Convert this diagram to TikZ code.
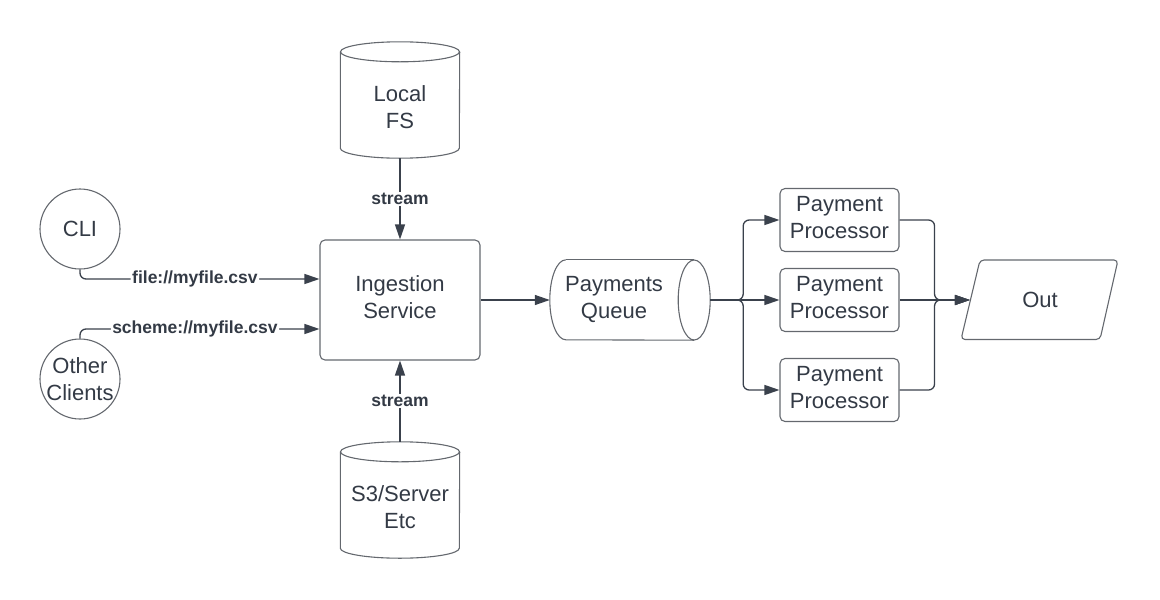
\documentclass[tikz,border=0pt]{standalone}
\usepackage{fontspec}
\setmainfont{Liberation Sans}
\usetikzlibrary{arrows.meta,calc}
\definecolor{txt}{RGB}{51,58,69}
\definecolor{edgec}{RGB}{100,104,110}
\definecolor{connc}{RGB}{58,65,76}
\begin{document}
\begin{tikzpicture}[x=1pt,y=-1pt,
  every node/.style={text=txt, font=\fontsize{22}{27}\selectfont, align=center},
  shp/.style={draw=edgec, line width=1.1pt},
  up/.style={text depth=5pt},
  box/.style={shp, rounded corners=5pt, inner sep=0pt, up},
  conn/.style={draw=connc, line width=1.3pt, -{Triangle[length=15pt,width=10pt]}},
  lbl/.style={font=\bfseries\fontsize{17.5}{20}\selectfont, fill=white, inner sep=1.5pt, text=txt}]
\useasboundingbox (0,0) rectangle (1160,600);

% clients
\node[shp, circle, minimum size=80pt, inner sep=0pt] (cli) at (80,229) {CLI};
\node[shp, circle, minimum size=80pt, inner sep=0pt] (oc) at (80,379) {Other\\Clients};

% ingestion service
\node[box, minimum width=160pt, minimum height=120pt] (ing) at (400,300) {Ingestion\\Service};

% Local FS cylinder
\node[minimum width=119pt, minimum height=96pt, inner sep=0pt, up] (lfs) at (400,110) {Local\\FS};
\draw[shp] ($(lfs.north west)+(0,-10)$) -- ($(lfs.south west)+(0,-10)$)
  arc[start angle=180, end angle=360, x radius=59.5pt, y radius=10pt]
  -- ($(lfs.north east)+(0,-10)$);
\draw[shp] ($(lfs.north)+(0,-10)$) ellipse [x radius=59.5pt, y radius=10pt];

% S3 cylinder
\node[minimum width=119pt, minimum height=96pt, inner sep=0pt, up] (s3) at (400,510) {S3/Server\\Etc};
\draw[shp] ($(s3.north west)+(0,-10)$) -- ($(s3.south west)+(0,-10)$)
  arc[start angle=180, end angle=360, x radius=59.5pt, y radius=10pt]
  -- ($(s3.north east)+(0,-10)$);
\draw[shp] ($(s3.north)+(0,-10)$) ellipse [x radius=59.5pt, y radius=10pt];

% Payments queue (horizontal cylinder)
\node[minimum width=128pt, minimum height=80pt, inner sep=0pt, up] (q) at (614,300) {Payments\\Queue};
\draw[shp] ($(q.north west)+(16,0)$)
  arc[start angle=90, end angle=270, x radius=16pt, y radius=40pt]
  -- ($(q.south east)+(16,0)$);
\draw[shp] ($(q.north west)+(16,0)$) -- ($(q.north east)+(16,0)$);
\draw[shp] ($(q.east)+(16,0)$) ellipse [x radius=16pt, y radius=40pt];

% processors
\node[box, minimum width=119pt, minimum height=63pt] (pp1) at (839.5,220) {Payment\\Processor};
\node[box, minimum width=119pt, minimum height=63pt] (pp2) at (839.5,300) {Payment\\Processor};
\node[box, minimum width=119pt, minimum height=63pt] (pp3) at (839.5,390) {Payment\\Processor};

% Out parallelogram
\node[minimum width=140pt, minimum height=79pt, inner sep=0pt] (out) at (1040,300) {Out};
\draw[shp, rounded corners=4pt] (999,260) -- (1118,260) -- (1100,339.5) -- (961,339.5) -- (980,260) -- cycle;

% connectors
\draw[conn] (lfs.south) -- node[lbl]{stream} (ing.north);
\draw[conn] ($(s3.north)+(0,-20)$) -- node[lbl]{stream} (ing.south);
\draw[conn, rounded corners=6pt] (cli.south) |- node[lbl, pos=0.74]{file://myfile.csv} ($(ing.west)+(0,-21)$);
\draw[conn, rounded corners=6pt] (oc.north) |- node[lbl, pos=0.74]{scheme://myfile.csv} ($(ing.west)+(0,29)$);
\draw[conn] (ing.east) -- (q.west);

\draw[conn, rounded corners=6pt] ($(q.east)+(32,0)$) -- ++(33,0) |- (pp1.west);
\draw[conn] ($(q.east)+(32,0)$) -- (pp2.west);
\draw[conn, rounded corners=6pt] ($(q.east)+(32,0)$) -- ++(33,0) |- (pp3.west);

\draw[conn, rounded corners=6pt] (pp1.east) -- ++(35,0) |- (out.west);
\draw[conn] (pp2.east) -- (out.west);
\draw[conn, rounded corners=6pt] (pp3.east) -- ++(35,0) |- (out.west);
\end{tikzpicture}
\end{document}
